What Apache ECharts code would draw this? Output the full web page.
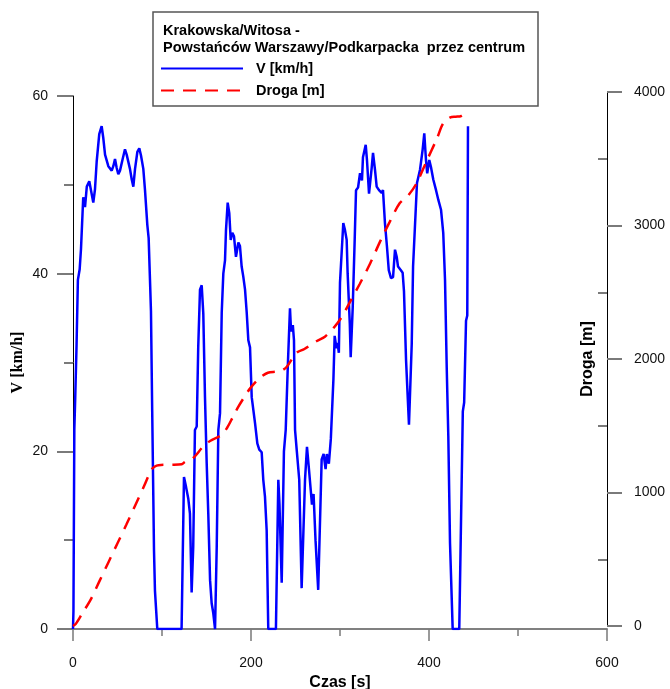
<!DOCTYPE html>
<html lang="pl">
<head>
<meta charset="UTF-8" />
<title>Krakowska/Witosa - Powstańców Warszawy/Podkarpacka</title>
<script src="https://cdn.jsdelivr.net/npm/echarts@6/dist/echarts.min.js"></script>
<style>
    html, body { margin: 0; padding: 0; background: #fff; }
    #chart { width: 670px; height: 689px; }
</style>
</head>
<body>
<div id="chart"></div>
<script>
// predkosc V [km/h] w funkcji czasu [s]
var timeV = [0, 0.5, 1.5, 2.5, 4, 5.5, 7.5, 9, 11.5, 13.5, 15.5, 18.3, 20.5, 22.8, 24.7, 26.6, 29.5, 32.2, 34, 36,
    39.7, 43.5, 45.3, 47.2, 49.1, 50.9, 52.8, 55.8, 58.4, 60.3, 64, 66, 67.8, 69.7, 72.3, 74.5, 76.4, 79, 80.9, 83.5,
    85, 86.5, 87.6, 89, 91, 92.1, 94.7, 122,
    124.7, 127, 129.5, 131.4, 133.3, 135.1, 137, 139, 140.7, 142.7, 144.6, 146.4, 148.3, 150.2, 152, 154, 155.8, 157.6, 159.6,
    161.5, 163.3, 165.2, 167.1, 168.9, 170.8, 171.9, 173.8, 175.6, 177.2, 179, 180.9, 183.1, 185.8, 187.6, 189.5, 191.3,
    193.3, 195.2, 197, 198.9, 200.8, 204.5, 207.1, 209.3, 212, 213.8, 215.7, 217.6, 219.4, 228,
    230.7, 232, 234.5, 237, 239, 241.5, 243.8, 245, 247, 248.3, 249.5, 251.5, 254.2, 256.9, 260.7, 262.9, 265.2, 268.5,
    270.3, 272.5, 275.5, 279.4, 281.6, 283.8, 285.2, 287.5, 289.7, 292.6, 294, 296, 297.3, 298.7, 300, 303.7, 305.6,
    307.5, 308.6, 311, 312, 314.3, 316.5, 318, 320.3, 322.5, 324.7, 325.8, 328.9, 330.3, 332.6, 335.6, 337.1, 339.3,
    341.2, 343.8, 346.8, 348.3, 350.5, 352.8, 354.8, 357.3, 359.6, 361.8, 363.7, 365.2, 368.2, 370.4, 371.9, 374.2,
    377.5, 380.6, 382.1, 386.5, 389.9, 392.9, 394.7, 396.6, 398, 400.3, 402.2, 404.8, 407.9, 410.5, 413.5, 416, 418,
    419.9, 421.7, 423.6, 426.6, 434, 438, 439.5, 441.6, 443, 443.8];
var speedV = [0, 2, 22.5, 26, 32, 39.3, 40.5, 42.8, 48.6, 47.5, 49.8, 50.4, 50.6, 48, 49.5, 52.6, 55.7, 56.6, 55.3, 53.4,
    52.1, 51.6, 52.1, 52.9, 51.9, 51.2, 51.6, 52.9, 54, 53.4, 51.8, 50.6, 49.8, 51.8, 53.7, 54.1, 53.3, 51.8, 49.4, 45.5,
    44, 39.3, 35.8, 24.5, 8.9, 4.3, 0, 0,
    17.1, 16, 14.7, 13, 4.1, 9.3, 22.4, 22.8, 31.7, 38.2, 38.7, 35.5, 26.1, 18.7, 13, 5.5, 2.9, 1.8, 0,
    9.3, 22.4, 24.3, 35.6, 40, 41.5, 44.9, 48, 46.8, 43.8, 44.6, 44.2, 41.9, 43.5, 43.1, 40.8, 39.7,
    38.2, 35.6, 32.5, 31.7, 26.1, 23.2, 20.9, 20.2, 19.9, 16.8, 14.9, 11.1, 0, 0,
    16.8, 14, 5.2, 20, 22.4, 30, 36.1, 33.5, 34.2, 32.5, 22.4, 20, 16.8, 4.6, 16.8, 20.5, 17.9, 14,
    15.2, 10, 4.4, 19.1, 19.7, 18, 19.7, 18.6, 21.4, 28.1, 33, 31.6, 32.2, 31.1, 39, 45.7, 44.9,
    43.8, 40, 34.4, 30.6, 36.2, 43.8, 49.4, 49.7, 51.3, 50.5, 53.1, 54.5, 52.8, 49, 51.9, 53.6, 51.7,
    49.8, 49.4, 49.1, 49.4, 45.7, 43, 40.4, 39.5, 39.6, 42.7, 41.9, 40.8, 40.4, 40.1, 38, 30.3,
    23, 32.1, 40.8, 50.2, 51.7, 54, 55.8, 52.8, 51.3, 52.8, 52, 50.6, 49.4, 48.3, 47.2, 44.6, 39.3,
    29.5, 21.7, 9.7, 0, 0, 24.5, 25.5, 34.7, 35.3, 56.6];

// przebyta droga [m] w funkcji czasu [s]
var timeD = [0, 3, 10, 20, 30, 40, 50, 60, 70, 80, 88, 92, 96, 110, 122, 126, 135, 146, 154, 167, 173, 180, 186, 193,
    199, 210, 219, 228, 234, 240, 251, 260, 274, 283, 294, 301, 309, 322, 334, 345, 356, 367, 377, 386, 397, 409, 416,
    424, 430, 436, 444];
var distD = [0, 15, 90, 200, 340, 480, 620, 760, 905, 1050, 1170, 1195, 1205, 1208, 1212, 1230, 1258, 1343, 1386, 1431,
    1483, 1570, 1645, 1720, 1780, 1860, 1897, 1905, 1912, 1940, 2045, 2075, 2135, 2167, 2242, 2305, 2400, 2560, 2717,
    2879, 3029, 3166, 3228, 3316, 3478, 3653, 3765, 3810, 3815, 3820, 3870];

var xTicks = [0, 200, 400, 600];
var vTicks = [0, 20, 40, 60];
var dTicks = [0, 1000, 2000, 3000, 4000];
var dMinorTicks = [500, 1500, 2500, 3500];

function pairs(xs, ys) {
    return xs.map(function (x, i) { return [x, ys[i]]; });
}

var tickColor = '#7a7a7a';
var font = 'Arial, Liberation Sans';
var labelStyle = { fontFamily: font, fontSize: 14, color: '#111' };
function plain(v) { return String(v); }

// os D: 0 m -> y=626, 4000 m -> y=92
var dTop = 92, dBottom = 689 - 626;
var dPx = (626 - 92) / 4000;

var chart = echarts.init(document.getElementById('chart'), null, { renderer: 'canvas' });

var option = {
    animation: false,
    backgroundColor: '#fff',
    title: {
        text: 'Krakowska/Witosa -\nPowstańców Warszawy/Podkarpacka  przez centrum',
        left: 163,
        top: 22,
        padding: 0,
        textStyle: { fontFamily: font, fontWeight: 'bold', fontSize: 14.5, lineHeight: 17, color: '#000' }
    },
    legend: {
        orient: 'vertical',
        left: 160,
        top: 61,
        padding: 0,
        itemWidth: 82,
        itemHeight: 14,
        itemGap: 7,
        itemStyle: { opacity: 0 },
        textStyle: { fontFamily: font, fontWeight: 'bold', fontSize: 14.5, color: '#000', padding: [0, 0, 0, 8] },
        data: ['V [km/h]', 'Droga [m]']
    },
    graphic: [{
        type: 'rect',
        z: 3,
        shape: { x: 153, y: 12, width: 385, height: 94 },
        style: { fill: '#fff', stroke: '#555', lineWidth: 1.5 }
    }],
    grid: [
        { left: 73, right: 63, top: 96, bottom: 60, outerBoundsMode: 'none' },
        { left: 73, right: 63, top: dTop, bottom: dBottom, outerBoundsMode: 'none' },
        // siatka tylko dla krotkich podzialek 500..3500 po prawej stronie
        {
            left: 73, right: 63,
            top: 626 - dMinorTicks[dMinorTicks.length - 1] * dPx,
            bottom: 689 - (626 - dMinorTicks[0] * dPx),
            outerBoundsMode: 'none'
        }
    ],
    xAxis: [{
        type: 'value',
        gridIndex: 0,
        min: xTicks[0],
        max: xTicks[xTicks.length - 1],
        interval: 200,
        name: 'Czas [s]',
        nameLocation: 'middle',
        nameGap: 46,
        nameTextStyle: { fontFamily: font, fontWeight: 'bold', fontSize: 16, color: '#000' },
        axisLine: { onZero: false, lineStyle: { color: '#808080', width: 2 } },
        axisTick: { length: 12, lineStyle: { color: tickColor, width: 1.5 } },
        minorTick: { show: true, splitNumber: 2, length: 7, lineStyle: { color: tickColor, width: 1.5 } },
        axisLabel: Object.assign({ margin: 27, formatter: plain }, labelStyle),
        splitLine: { show: false }
    }, {
        type: 'value', gridIndex: 1, min: 0, max: 600, show: false
    }, {
        type: 'value', gridIndex: 2, min: 0, max: 600, show: false
    }],
    yAxis: [{
        type: 'value',
        gridIndex: 0,
        position: 'left',
        min: vTicks[0],
        max: vTicks[vTicks.length - 1],
        interval: 20,
        name: 'V [km/h]',
        nameLocation: 'middle',
        nameRotate: 90,
        nameGap: 47,
        nameMoveOverlap: false,
        nameTextStyle: { fontFamily: 'Liberation Serif, Times New Roman', fontWeight: 'bold', fontSize: 16, color: '#000' },
        axisLine: { show: true, onZero: false, lineStyle: { color: '#000', width: 1 } },
        axisTick: { length: 16, lineStyle: { color: tickColor, width: 2 } },
        minorTick: { show: true, splitNumber: 2, length: 9, lineStyle: { color: tickColor, width: 2 } },
        axisLabel: Object.assign({ margin: 25, formatter: plain }, labelStyle),
        splitLine: { show: false }
    }, {
        type: 'value',
        gridIndex: 1,
        position: 'right',
        min: dTicks[0],
        max: dTicks[dTicks.length - 1],
        interval: 1000,
        name: 'Droga [m]',
        nameLocation: 'middle',
        nameRotate: 90,
        nameGap: -27,
        nameMoveOverlap: false,
        nameTextStyle: { fontFamily: font, fontWeight: 'bold', fontSize: 16, color: '#000' },
        axisLine: { show: true, onZero: false, lineStyle: { color: '#000', width: 1 } },
        axisTick: { inside: false, length: 15, lineStyle: { color: tickColor, width: 2 } },
        axisLabel: Object.assign({ margin: 27, formatter: plain }, labelStyle),
        splitLine: { show: false }
    }, {
        type: 'value',
        gridIndex: 2,
        position: 'right',
        min: dMinorTicks[0],
        max: dMinorTicks[dMinorTicks.length - 1],
        interval: 1000,
        axisLine: { show: false, onZero: false },
        axisLabel: { show: false },
        axisTick: { inside: true, length: 9, lineStyle: { color: tickColor, width: 2 } },
        splitLine: { show: false }
    }],
    series: [{
        name: 'V [km/h]',
        type: 'line',
        xAxisIndex: 0,
        yAxisIndex: 0,
        data: pairs(timeV, speedV),
        symbol: 'none',
        lineStyle: { color: '#0000ff', width: 2.5 },
        itemStyle: { color: '#0000ff' },
        z: 3
    }, {
        name: 'Droga [m]',
        type: 'line',
        xAxisIndex: 1,
        yAxisIndex: 1,
        data: pairs(timeD, distD),
        symbol: 'none',
        smooth: 0.3,
        lineStyle: { color: '#ff0000', width: 2.5, type: [13, 9] },
        itemStyle: { color: '#ff0000' },
        z: 4
    }]
};

chart.setOption(option);
window.addEventListener('resize', function () {
    chart.resize();
});
</script>
</body>
</html>
